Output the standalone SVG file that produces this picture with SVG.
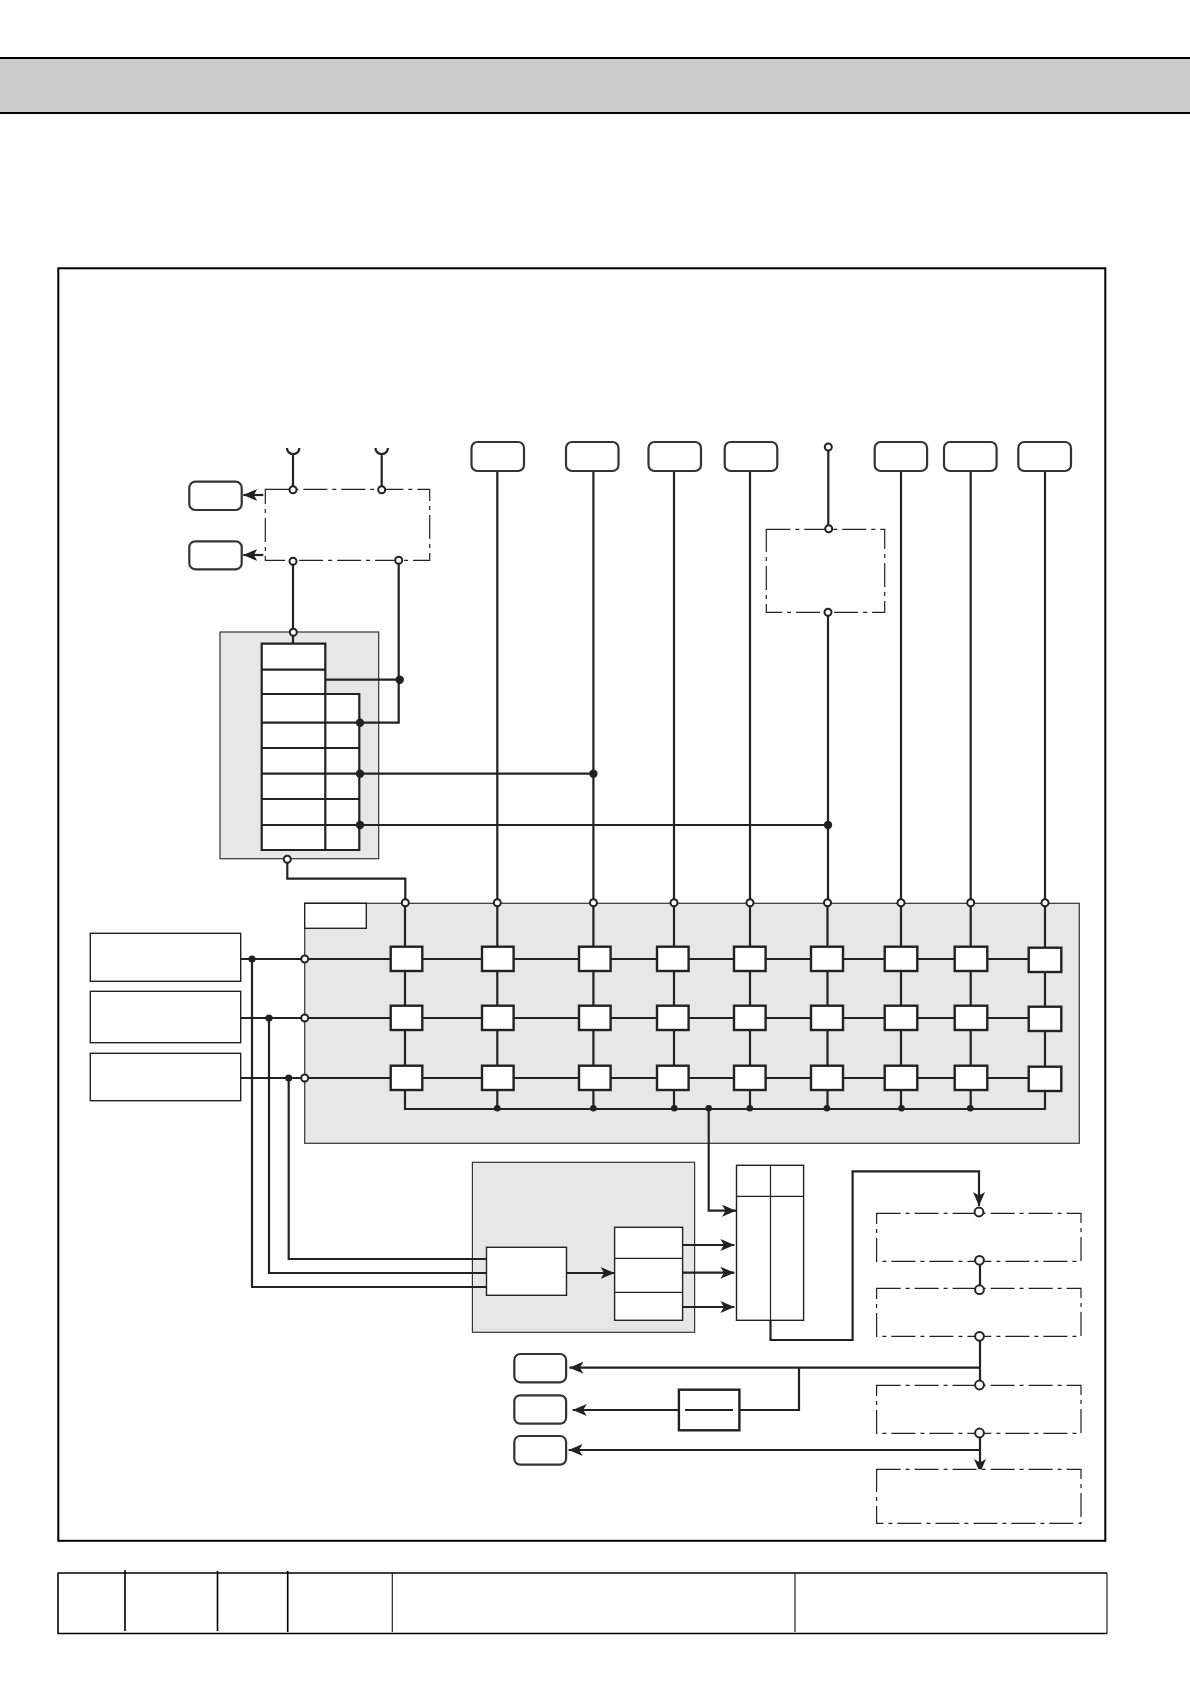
<svg xmlns="http://www.w3.org/2000/svg" width="1190" height="1684" viewBox="0 0 1190 1684">
<style>
.pn{fill:#e7e7e7;stroke:#333;stroke-width:1.2}
.wt{fill:#fff;stroke:#222;stroke-width:1.4}
.tb{fill:#fff;stroke:#222;stroke-width:2.2}
.nd{fill:#fff;stroke:#222;stroke-width:2.4}
.rb{fill:#fff;stroke:#333;stroke-width:2.2}
.da{fill:#fff;stroke:#222;stroke-width:1.2;stroke-dasharray:24 5 4 5}
.ln{fill:none;stroke:#222;stroke-width:2.2}
.th{fill:none;stroke:#222;stroke-width:1.2}
.bk{fill:none;stroke:#000;stroke-width:1.6}
.ar{marker-end:url(#ah)}
.ho{fill:#fff;stroke:#222;stroke-width:2}
.do{fill:#222}
</style>
<defs>
<marker id="ah" markerUnits="userSpaceOnUse" markerWidth="16" markerHeight="14" refX="14" refY="6" orient="auto">
<path d="M0 0L14 6L0 12L3.5 6Z" fill="#222"/>
</marker>
</defs>
<rect width="1190" height="1684" fill="#fff"/>
<g id="header"><rect x="-2" y="58" width="1194" height="55" fill="#ccc" stroke="#000" stroke-width="2"/></g>
<g id="frame"><rect x="58.3" y="268.3" width="1047" height="1272.5" fill="#fff" stroke="#000" stroke-width="2"/></g>
<g id="title-table">
<path class="bk" d="M57.5 1573H1107M57.5 1633.5H1107M58 1573V1633.5M125 1570V1631M217.5 1571V1631M287.7 1571V1632"/>
<path class="th" d="M1107 1573V1633.5M392.3 1572V1632M795 1572V1632"/>
</g>
<g id="panel-memory"><rect class="pn" x="220" y="632" width="158.7" height="226.7"/></g>
<g id="panel-matrix"><rect class="pn" x="304.7" y="903.3" width="774.6" height="240"/><rect class="wt" x="304.7" y="903.3" width="61.6" height="25"/></g>
<g id="panel-control"><rect class="pn" x="472.4" y="1162.3" width="222.2" height="170"/></g>
<g id="connectors">
<path class="ln" d="M287 448A6.2 6.2 0 0 0 299.4 448M375.5 448A6.2 6.2 0 0 0 387.9 448M293 454V490M381.7 454V490"/>
<path class="ln ar" d="M263.3 495H243.3"/>
<path class="ln ar" d="M263.3 555H243.3"/>
<path class="ln" d="M293 561V644M398.7 560V722.7H360M325.3 679.7H399.7"/>
<path class="ln" d="M360 773.7H593.4M360 825H828M287.3 859V878.7H405.3V903"/>
<path class="ln" d="M497.3 471V903M593.4 471V903M674 471V903M750 471V903M828.3 447V529M828 612V903M901 471V903M970.7 471V903M1045 471V903"/>
<path class="ln" d="M405 903V1109H1045V903M497.3 903V1109M593.4 903V1109M674 903V1109M750 903V1109M827.5 903V1109M901 903V1109M970.7 903V1109"/>
<path class="ln" d="M240.7 959H1045M240.7 1018H1045M240.7 1078H1045"/>
<path class="ln" d="M252 959V1287H486.5M269 1018V1273H486.5M288.7 1078V1259H486.5"/>
<path class="ln ar" d="M566.5 1273H614.6"/>
<path class="ln ar" d="M682.6 1245H734.4"/>
<path class="ln ar" d="M682.6 1272.7H734.4"/>
<path class="ln ar" d="M682.6 1307H734.4"/>
<path class="ln ar" d="M708.7 1108.3V1210.7H736"/>
<path class="ln ar" d="M770.5 1320V1340H852.6V1171.3H979V1206"/>
<path class="ln" d="M980 1260V1290M980 1336V1385"/>
<path class="ln ar" d="M980 1367.7H569.4"/>
<path class="ln" d="M799 1367.7V1410H739.4"/>
<path class="ln ar" d="M678.9 1410H572.7"/>
<path class="ln ar" d="M980 1450H568.6"/>
<path class="ln ar" d="M980 1433V1473"/>
</g>
<g id="plug-box"><rect class="da" x="265.3" y="489.3" width="164.4" height="71"/></g>
<g id="plug-box-2"><rect class="da" x="766.3" y="529.3" width="118.4" height="83"/></g>
<g id="unit-1"><rect class="da" x="876.6" y="1213.3" width="204.4" height="48"/></g>
<g id="unit-2"><rect class="da" x="876.6" y="1288.3" width="204.4" height="48"/></g>
<g id="unit-3"><rect class="da" x="876.6" y="1385.3" width="204.4" height="48"/></g>
<g id="unit-4"><path class="da" d="M876.6 1469.3H1081V1523.3H876.6Z"/></g>
<g id="tag-a"><rect class="rb" x="189.3" y="481.7" width="52.4" height="28.3" rx="6"/></g>
<g id="tag-b"><rect class="rb" x="189.3" y="541.3" width="52.4" height="28" rx="6"/></g>
<g id="tag-c"><rect class="rb" x="471.5" y="442" width="52.5" height="29" rx="6"/></g>
<g id="tag-d"><rect class="rb" x="566" y="442" width="52.5" height="29" rx="6"/></g>
<g id="tag-e"><rect class="rb" x="648.5" y="442" width="52.5" height="29" rx="6"/></g>
<g id="tag-f"><rect class="rb" x="724.7" y="442" width="52.6" height="29" rx="6"/></g>
<g id="tag-g"><rect class="rb" x="874.7" y="442" width="52.4" height="29" rx="6"/></g>
<g id="tag-h"><rect class="rb" x="944" y="442" width="52.6" height="29" rx="6"/></g>
<g id="tag-i"><rect class="rb" x="1018.3" y="442" width="52.7" height="29" rx="6"/></g>
<g id="tag-j"><rect class="rb" x="514.3" y="1354" width="51.8" height="28.3" rx="6"/></g>
<g id="tag-k"><rect class="rb" x="514.3" y="1395.3" width="51.8" height="28.4" rx="6"/></g>
<g id="tag-l"><rect class="rb" x="514.3" y="1436" width="51.8" height="28.7" rx="6"/></g>
<g id="memory-table">
<path class="tb" d="M261.7 643.7H325.3V694H359.3V850H261.7Z"/>
<path class="tb" d="M261.7 669.7H325.3M261.7 694H325.3M261.7 722.7H359.3M261.7 748H359.3M261.7 773.7H359.3M261.7 799H359.3M261.7 825H359.3M325.3 694V850"/>
</g>
<g id="src-1"><rect class="wt" x="90.3" y="933.3" width="150.4" height="48"/></g>
<g id="src-2"><rect class="wt" x="90.3" y="991.3" width="150.4" height="51.4"/></g>
<g id="src-3"><rect class="wt" x="90.3" y="1053.3" width="150.4" height="47.4"/></g>
<g id="matrix-nodes">
<g id="n11"><rect class="nd" x="390.7" y="946.7" width="31.6" height="24.3"/></g>
<g id="n12"><rect class="nd" x="482" y="946.7" width="31.6" height="24.3"/></g>
<g id="n13"><rect class="nd" x="579" y="946.7" width="31.6" height="24.3"/></g>
<g id="n14"><rect class="nd" x="657" y="946.7" width="31.6" height="24.3"/></g>
<g id="n15"><rect class="nd" x="734" y="946.7" width="31.6" height="24.3"/></g>
<g id="n16"><rect class="nd" x="811" y="946.7" width="32" height="24.3"/></g>
<g id="n17"><rect class="nd" x="884.7" y="946.7" width="32.6" height="24.3"/></g>
<g id="n18"><rect class="nd" x="954.7" y="946.7" width="32.6" height="24.3"/></g>
<g id="n19"><rect class="nd" x="1028.7" y="947.7" width="32.6" height="24.3"/></g>
<g id="n21"><rect class="nd" x="390.7" y="1005.7" width="31.6" height="24.3"/></g>
<g id="n22"><rect class="nd" x="482" y="1005.7" width="31.6" height="24.3"/></g>
<g id="n23"><rect class="nd" x="579" y="1005.7" width="31.6" height="24.3"/></g>
<g id="n24"><rect class="nd" x="657" y="1005.7" width="31.6" height="24.3"/></g>
<g id="n25"><rect class="nd" x="734" y="1005.7" width="31.6" height="24.3"/></g>
<g id="n26"><rect class="nd" x="811" y="1005.7" width="32" height="24.3"/></g>
<g id="n27"><rect class="nd" x="884.7" y="1005.7" width="32.6" height="24.3"/></g>
<g id="n28"><rect class="nd" x="954.7" y="1005.7" width="32.6" height="24.3"/></g>
<g id="n29"><rect class="nd" x="1028.7" y="1006.7" width="32.6" height="24.3"/></g>
<g id="n31"><rect class="nd" x="390.7" y="1065.7" width="31.6" height="24.3"/></g>
<g id="n32"><rect class="nd" x="482" y="1065.7" width="31.6" height="24.3"/></g>
<g id="n33"><rect class="nd" x="579" y="1065.7" width="31.6" height="24.3"/></g>
<g id="n34"><rect class="nd" x="657" y="1065.7" width="31.6" height="24.3"/></g>
<g id="n35"><rect class="nd" x="734" y="1065.7" width="31.6" height="24.3"/></g>
<g id="n36"><rect class="nd" x="811" y="1065.7" width="32" height="24.3"/></g>
<g id="n37"><rect class="nd" x="884.7" y="1065.7" width="32.6" height="24.3"/></g>
<g id="n38"><rect class="nd" x="954.7" y="1065.7" width="32.6" height="24.3"/></g>
<g id="n39"><rect class="nd" x="1028.7" y="1066.7" width="32.6" height="24.3"/></g>
</g>
<g id="control-unit"><rect class="wt" x="486.5" y="1247.3" width="80" height="48"/></g>
<g id="control-table"><rect class="wt" x="614.6" y="1227.3" width="68" height="93"/><path class="th" d="M614.6 1258.3H682.6M614.6 1292.3H682.6"/></g>
<g id="main-table"><rect class="wt" x="736.5" y="1165.3" width="67.1" height="155"/><path class="th" d="M736.5 1196.3H803.6M770.5 1165.3V1320.3"/></g>
<g id="transformer"><rect class="nd" x="678.9" y="1389.7" width="60.5" height="40.6"/><path class="ln" d="M685 1410H733"/></g>
<g id="junctions">
<g class="ho">
<circle cx="293" cy="489.7" r="3.5"/><circle cx="381.7" cy="489.7" r="3.5"/><circle cx="293" cy="561.3" r="3.5"/><circle cx="398.7" cy="560.3" r="3.5"/><circle cx="293.3" cy="632.3" r="3.5"/><circle cx="287.3" cy="859.3" r="3.5"/>
<circle cx="828.3" cy="447" r="3.5"/><circle cx="828.7" cy="528.7" r="3.5"/><circle cx="828" cy="612.3" r="3.5"/>
<circle cx="405.3" cy="902.7" r="3.5"/><circle cx="497.3" cy="902.7" r="3.5"/><circle cx="593.4" cy="902.7" r="3.5"/><circle cx="674" cy="902.7" r="3.5"/><circle cx="750" cy="902.7" r="3.5"/><circle cx="827.5" cy="902.7" r="3.5"/><circle cx="901" cy="902.7" r="3.5"/><circle cx="970.7" cy="902.7" r="3.5"/><circle cx="1045" cy="902.7" r="3.5"/>
<circle cx="304.7" cy="959" r="3.5"/><circle cx="304.7" cy="1018" r="3.5"/><circle cx="304.7" cy="1078" r="3.5"/>
<circle cx="979" cy="1212" r="4.4"/><circle cx="979.5" cy="1260.3" r="4.4"/><circle cx="979.5" cy="1289.7" r="4.4"/><circle cx="979.5" cy="1336.3" r="4.4"/><circle cx="979.5" cy="1385" r="4.4"/><circle cx="979.5" cy="1433" r="4.4"/>
</g>
<g class="do">
<circle cx="399.7" cy="679.7" r="4.2"/><circle cx="360" cy="722.7" r="4.2"/><circle cx="360" cy="773.7" r="4.2"/><circle cx="360" cy="825" r="4.2"/><circle cx="593.4" cy="773.7" r="4.2"/><circle cx="828" cy="825" r="4.2"/>
<circle cx="252" cy="959" r="3.6"/><circle cx="269" cy="1018" r="3.6"/><circle cx="288.7" cy="1078" r="3.6"/>
<circle cx="497.3" cy="1108.3" r="3.3"/><circle cx="593.4" cy="1108.3" r="3.3"/><circle cx="674.3" cy="1108.3" r="3.3"/><circle cx="708.7" cy="1108.3" r="3.3"/><circle cx="749.8" cy="1108.3" r="3.3"/><circle cx="826.9" cy="1108.3" r="3.3"/><circle cx="901.5" cy="1108.3" r="3.3"/><circle cx="970.3" cy="1108.3" r="3.3"/>
</g>
</g>
</svg>
